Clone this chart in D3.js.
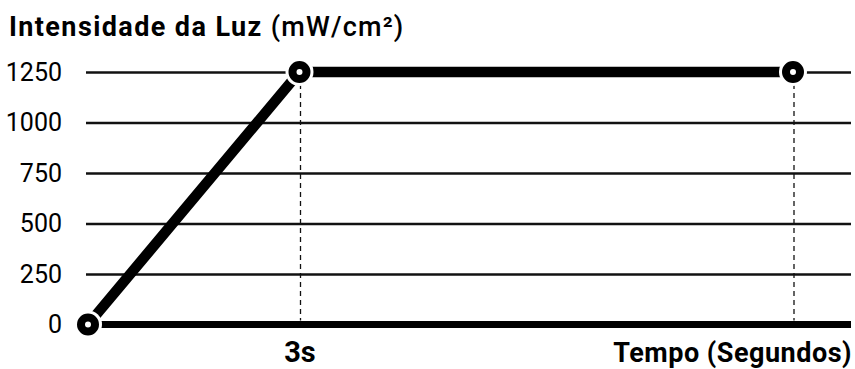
<!DOCTYPE html>
<html>
<head>
<meta charset="utf-8">
<script src="https://cdn.jsdelivr.net/npm/d3@7/dist/d3.min.js"></script>
<style>
  html, body { margin: 0; padding: 0; background: #fff; }
  svg { display: block; }
  text { font-family: Roboto, "DejaVu Sans", sans-serif; fill: #000; }
</style>
</head>
<body>
<svg id="chart" width="855" height="369"></svg>
<script>
// ---- data ----
const times = [0, 3, 10];               // seconds
const intensity = [0, 1250, 1250];      // mW/cm²
const yTicks = [0, 250, 500, 750, 1000, 1250];
const xTickValues = [3];
const xTickLabels = ["3s"];
const titleMain = "Intensidade da Luz";
const titleUnit = " (mW/cm²)";
const xTitle = "Tempo (Segundos)";

const points = times.map((t, i) => ({ t, v: intensity[i] }));

const svg = d3.select("#chart");
const gridLeft = 86, gridRight = 851;

const x = d3.scaleLinear().domain([0, 10]).range([88, 793]);
const y = d3.scaleLinear().domain([0, 1250]).range([324.5, 72]);

// title
const title = svg.append("text")
  .attr("x", 9).attr("y", 36)
  .style("font-size", "27px");
title.append("tspan").style("font-weight", 700).style("letter-spacing", "1.4px").text(titleMain);
title.append("tspan").style("font-weight", 500).style("letter-spacing", "1.2px").text(titleUnit);

// y axis with grid lines
const yAxis = d3.axisLeft(y)
  .tickValues(yTicks.filter(d => d !== 0))
  .tickSize(-(gridRight - gridLeft))
  .tickPadding(24)
  .tickFormat(d3.format("d"));
const gy = svg.append("g").attr("transform", `translate(${gridLeft},0)`).call(yAxis);
gy.select(".domain").remove();
gy.selectAll(".tick line").attr("stroke", "#111").attr("stroke-width", 2.5);
gy.selectAll(".tick text").style("font-size", "25px").style("font-weight", 400).attr("fill", "#000");

// zero label
svg.append("text")
  .attr("x", gridLeft - 24).attr("y", y(0)).attr("dy", "0.32em")
  .attr("text-anchor", "end").style("font-size", "25px").text(d3.format("d")(0));

// zero baseline (thick)
svg.append("line")
  .attr("x1", gridLeft).attr("x2", gridRight)
  .attr("y1", y(0)).attr("y2", y(0))
  .attr("stroke", "#000").attr("stroke-width", 7);

// dashed verticals from later points
svg.append("g").selectAll("line")
  .data(points.filter(p => p.t > 0))
  .join("line")
  .attr("x1", d => x(d.t) + 1).attr("x2", d => x(d.t) + 1)
  .attr("y1", d => y(d.v) + 12).attr("y2", y(0) - 4)
  .attr("stroke", "#111").attr("stroke-width", 1.3)
  .attr("stroke-dasharray", "5,4");

// x tick labels
const xAxis = d3.axisBottom(x).tickValues(xTickValues).tickSize(0).tickPadding(14)
  .tickFormat((d, i) => xTickLabels[i]);
const gx = svg.append("g").attr("transform", `translate(0,${y(0)})`).call(xAxis);
gx.select(".domain").remove();
gx.selectAll(".tick text").style("font-size", "29px").style("font-weight", 700)
  .attr("fill", "#000").attr("dy", null).attr("y", 37);

// x title
svg.append("text")
  .attr("x", 852).attr("y", 362).attr("text-anchor", "end")
  .style("font-size", "27px").style("font-weight", 700).style("letter-spacing", "0.5px").text(xTitle);

// data line
const line = d3.line().x(d => x(d.t)).y(d => y(d.v));
svg.append("path").datum(points)
  .attr("d", line)
  .attr("fill", "none").attr("stroke", "#000")
  .attr("stroke-width", 10.5).attr("stroke-linejoin", "miter");

// markers: white halo, black ring, white centre
const m = svg.append("g").selectAll("g").data(points).join("g")
  .attr("transform", d => `translate(${x(d.t)},${y(d.v)})`);
m.append("circle").attr("r", 14).attr("fill", "#fff");
m.append("circle").attr("r", 7).attr("fill", "#fff").attr("stroke", "#000").attr("stroke-width", 8);
</script>
</body>
</html>
